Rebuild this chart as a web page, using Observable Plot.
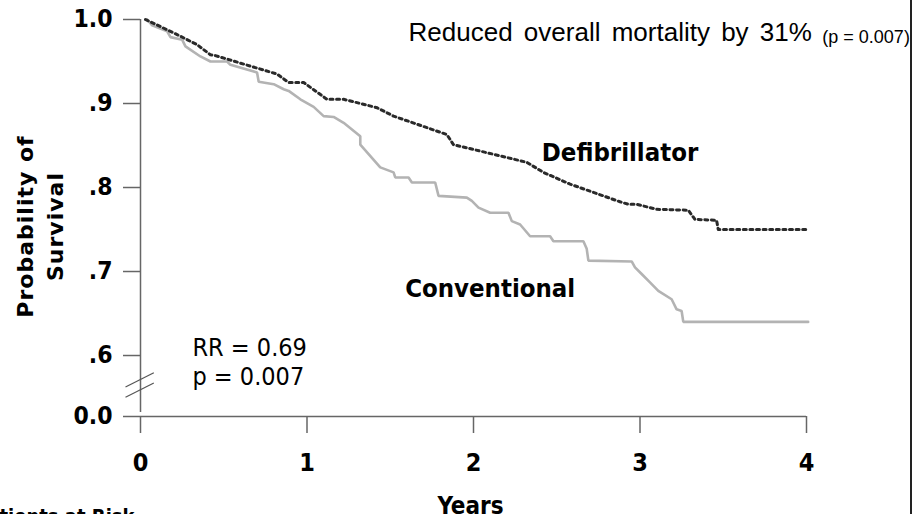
<!DOCTYPE html>
<html>
<head>
<meta charset="utf-8">
<script src="https://cdn.jsdelivr.net/npm/d3@7"></script>
<script src="https://cdn.jsdelivr.net/npm/@observablehq/plot@0.6"></script>
<style>
  html, body { margin: 0; padding: 0; background: #fff; overflow: hidden; }
  #wrap { position: relative; width: 913px; height: 514px; }
  #edge { position: absolute; left: 910px; top: 0; width: 2px; height: 514px; background: #222; }
  svg { display: block; }
</style>
</head>
<body>
<div id="wrap"><div id="chart"></div><div id="edge"></div></div>
<script>
// ---- data ----
const defibYears = [0.03, 0.20, 0.34, 0.42, 0.45, 0.82, 0.89, 0.98, 1.12, 1.22, 1.42, 1.52, 1.84, 1.88, 2.32, 2.42, 2.58, 2.88, 2.93, 2.98, 3.10, 3.29, 3.33, 3.46, 3.47, 4.01];
const defibSurv  = [1.000, 0.984, 0.970, 0.958, 0.957, 0.935, 0.925, 0.925, 0.905, 0.905, 0.895, 0.885, 0.863, 0.851, 0.830, 0.818, 0.804, 0.783, 0.780, 0.780, 0.774, 0.773, 0.762, 0.761, 0.750, 0.750];

const convYears = [0.04, 0.07, 0.16, 0.18, 0.25, 0.27, 0.36, 0.42, 0.52, 0.54,
                   0.70, 0.71, 0.80, 0.86, 0.89, 0.96, 1.04, 1.10, 1.16, 1.22,
                   1.32, 1.32, 1.44, 1.52, 1.53, 1.61, 1.63, 1.77, 1.79, 1.96,
                   1.99, 2.03, 2.10, 2.21, 2.23, 2.28, 2.34, 2.46, 2.48, 2.66,
                   2.68, 2.69, 2.95, 2.97, 3.01, 3.06, 3.11, 3.19, 3.22, 3.25,
                   3.26, 4.01];
const convSurv  = [1.000, 0.993, 0.986, 0.979, 0.976, 0.968, 0.956, 0.950, 0.950, 0.946,
                   0.937, 0.926, 0.923, 0.917, 0.915, 0.905, 0.896, 0.885, 0.884, 0.877,
                   0.861, 0.851, 0.824, 0.818, 0.812, 0.812, 0.806, 0.806, 0.790, 0.788,
                   0.784, 0.776, 0.770, 0.770, 0.760, 0.756, 0.742, 0.742, 0.736, 0.736,
                   0.727, 0.713, 0.712, 0.705, 0.697, 0.687, 0.677, 0.667, 0.655, 0.653,
                   0.640, 0.640];

const xTicks = [0, 1, 2, 3, 4];
const xTickLabels = ["0", "1", "2", "3", "4"];
const yTicks = [0, 0.6, 0.7, 0.8, 0.9, 1.0];
const yTickLabels = ["0.0", ".6", ".7", ".8", ".9", "1.0"];

const seriesNames = ["Defibrillator", "Conventional"];
const titleText = "Reduced overall mortality by 31%";
const titleP = "(p = 0.007)";
const statsLines = ["RR = 0.69", "p = 0.007"];
const yLabel = "Probability of\nSurvival";
const xLabel = "Years";
const riskLabel = "Patients at Risk";

// ---- build tables ----
const defib = defibYears.map((t, i) => ({t, s: defibSurv[i]}));
const conv = convYears.map((t, i) => ({t, s: convSurv[i]}));

// broken axis: the 0 .. 0.6 gap is compressed to a short stub
const BREAK_AT = 0.6;
const GAP = 0.0726; // displayed span (in survival units) of the compressed 0..0.6 segment
const brk = v => v >= BREAK_AT ? v : BREAK_AT - (BREAK_AT - v) / BREAK_AT * GAP;

const COND = "'DejaVu Sans Condensed', 'DejaVu Sans', sans-serif";
const BOLD = "'DejaVu Sans', Verdana, sans-serif";
const ARIAL = "'Liberation Sans', Arial, sans-serif";
const AXIS = "#666";
const breakY = 0.35;

const chart = Plot.plot({
  width: 913,
  height: 514,
  marginLeft: 140,
  marginRight: 107,
  marginTop: 19,
  marginBottom: 98,
  style: {background: "#fff", color: "#000", overflow: "visible"},
  x: {domain: [0, 4], axis: null},
  y: {transform: brk, domain: [brk(0), 1.0], axis: null},
  marks: [
    // axes lines
    Plot.ruleY([0], {x1: 0, x2: 4, stroke: AXIS, strokeWidth: 1.5}),
    Plot.ruleX([0], {y1: 0, y2: 1.0, stroke: AXIS, strokeWidth: 1.5, insetTop: -4}),
    Plot.axisX(xTicks, {
      anchor: "bottom", tickSize: 17, tickPadding: 20,
      tickFormat: (d, i) => xTickLabels[i],
      stroke: AXIS, strokeWidth: 1.5, fill: "#000",
      fontSize: 25, fontWeight: "bold", fontFamily: COND, label: null
    }),
    Plot.axisY(yTicks, {
      anchor: "left", tickSize: 17, tickPadding: 11,
      tickFormat: (d, i) => yTickLabels[i],
      stroke: AXIS, strokeWidth: 1.5, fill: "#000",
      fontSize: 24.5, fontWeight: "bold", fontFamily: COND, label: null
    }),
    // axis break marks
    Plot.link([0, 1], {
      x1: -0.09, x2: 0.08,
      y1: d => breakY - 0.06 - d * 0.1,
      y2: d => breakY + 0.08 - d * 0.1,
      stroke: "#555", strokeWidth: 1.2
    }),
    // curves
    Plot.line(conv, {x: "t", y: "s", stroke: "#b3b3b3", strokeWidth: 2.6, strokeLinejoin: "miter"}),
    Plot.line(defib, {x: "t", y: "s", stroke: "#2a2a2a", strokeWidth: 3, strokeDasharray: "3,3.6"}),
    // annotations
    Plot.text([seriesNames[0]], {x: 2.88, y: 0.8417, text: d => d, fontSize: 25.5, fontWeight: "bold", fontFamily: COND, textAnchor: "middle", lineAnchor: "middle"}),
    Plot.text([seriesNames[1]], {x: 2.10, y: 0.6798, text: d => d, fontSize: 25.5, fontWeight: "bold", fontFamily: COND, textAnchor: "middle", lineAnchor: "middle"}),
    Plot.text([titleText], {x: 1.61, y: 0.975, text: d => d, fontSize: 26, fontFamily: ARIAL, textAnchor: "start", lineAnchor: "bottom"}),
    Plot.text([titleP], {x: 4.095, y: 0.9715, text: d => d, fontSize: 18, fontFamily: ARIAL, textAnchor: "start", lineAnchor: "bottom"}),
    Plot.text([statsLines[0]], {x: 0.312, y: 0.6089, text: d => d, fontSize: 25, fontFamily: COND, textAnchor: "start", lineAnchor: "middle"}),
    Plot.text([statsLines[1]], {x: 0.312, y: 0.3885, text: d => d, fontSize: 25, fontFamily: COND, textAnchor: "start", lineAnchor: "middle"}),
    // axis titles
    Plot.text([yLabel], {frameAnchor: "left", dx: -102, dy: 8.5, text: d => d, rotate: -90, fontSize: 22, fontWeight: "bold", fontFamily: BOLD, textAnchor: "middle", lineAnchor: "middle", lineHeight: 1.35}),
    Plot.text([xLabel], {frameAnchor: "bottom", dx: -3, dy: 97, text: d => d, fontSize: 24, fontWeight: "bold", fontFamily: COND, textAnchor: "middle", lineAnchor: "bottom"}),
    Plot.text([riskLabel], {frameAnchor: "bottom-left", dx: -6, dy: 106, text: d => d, fontSize: 20, fontWeight: "bold", fontFamily: COND, textAnchor: "end", lineAnchor: "bottom"})
  ]
});
// spacing tweaks (word / letter spacing are not mark options)
const texts = d3.select(chart).selectAll("text");
texts.filter(function () { return this.textContent === titleText; }).style("word-spacing", "4px");
texts.filter(function () { return this.textContent.startsWith("Probability"); }).style("letter-spacing", "1px");
document.getElementById("chart").appendChild(chart);
</script>
</body>
</html>
